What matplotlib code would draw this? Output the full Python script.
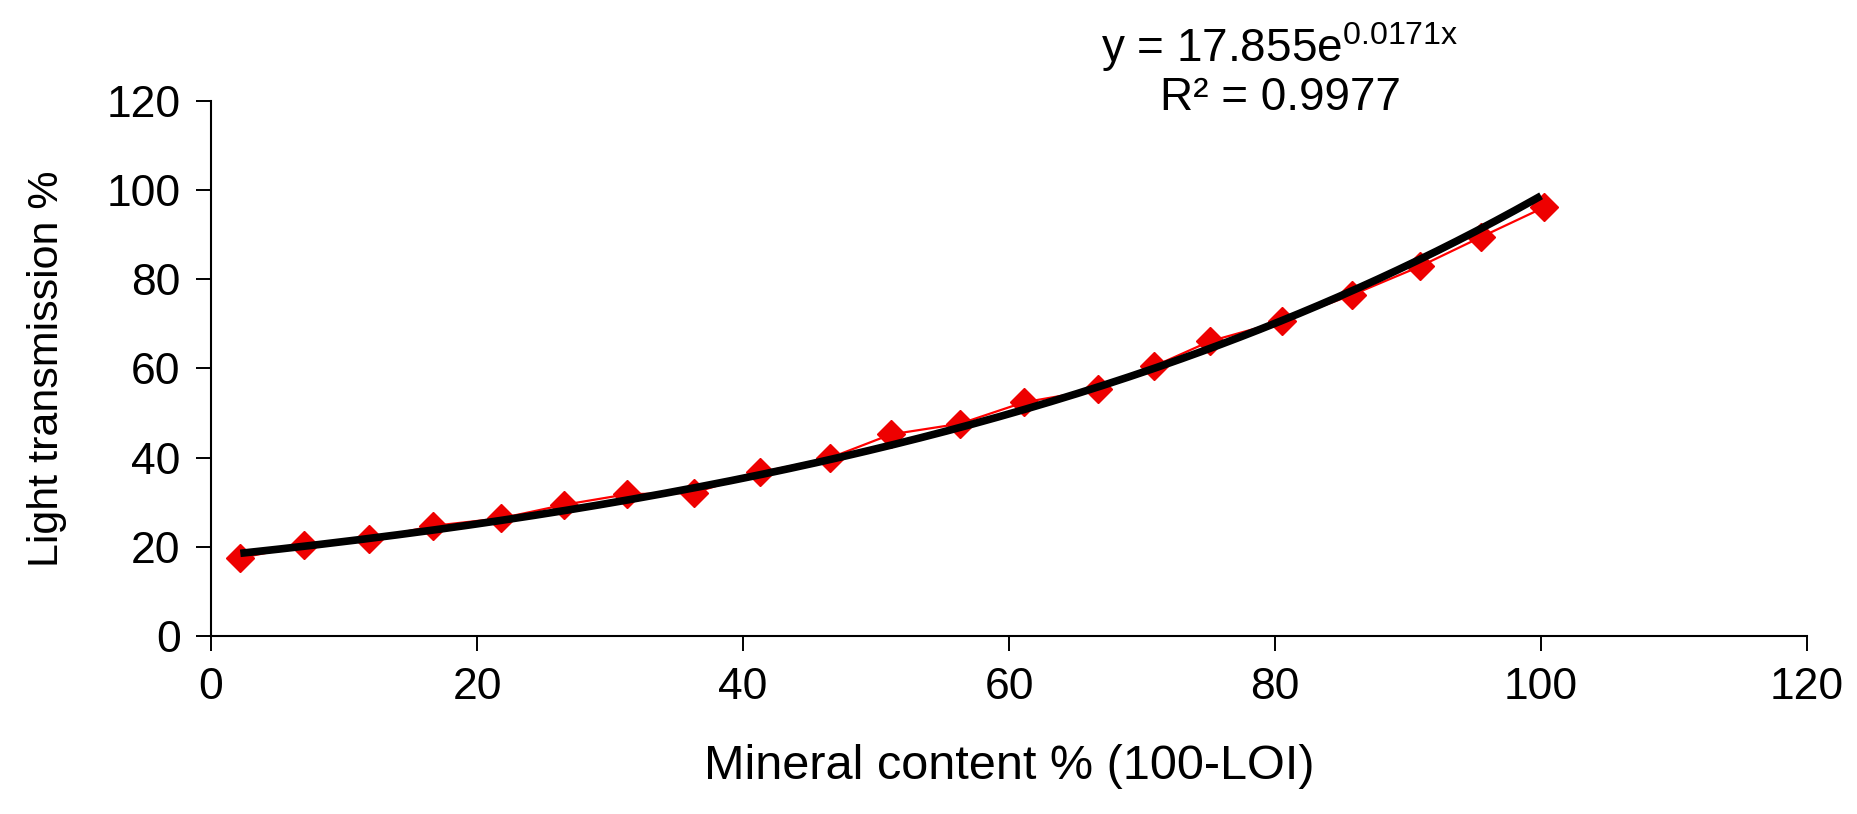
import matplotlib.pyplot as plt
import numpy as np

plt.rcParams['font.family'] = ['Liberation Sans', 'DejaVu Sans']

# mineral content (100-LOI) and measured light transmission
mineral = [2.2, 7.0, 11.9, 16.7, 21.8, 26.5, 31.3, 36.3, 41.3, 46.5, 51.1,
           56.3, 61.1, 66.7, 70.9, 75.1, 80.5, 85.8, 90.9, 95.5, 100.2]
transmission = [17.5, 20.3, 21.7, 24.7, 26.4, 29.4, 31.8, 32.1, 36.7, 39.9, 45.2,
                47.6, 52.4, 55.3, 60.5, 66.1, 70.6, 76.5, 82.9, 89.5, 96.1]

# exponential trend line
fit_a = 17.855
fit_b = 0.0171
r_squared = 0.9977

x_ticks = [0, 20, 40, 60, 80, 100, 120]
y_ticks = [0, 20, 40, 60, 80, 100, 120]

fig = plt.figure(figsize=(18.58, 8.14), dpi=100)
ax = fig.add_axes([0.1136, 0.2187, 0.8590, 0.6573])

ax.plot(mineral, transmission, color='#ff0000', lw=1.6, marker='D',
        ms=14, mec='#ee0000', mfc='#ee0000', zorder=2)

xf = np.linspace(mineral[0], 100, 200)
ax.plot(xf, fit_a * np.exp(fit_b * xf), color='black', lw=5.5,
        solid_capstyle='butt', zorder=3)

ax.set_xlim(0, 120)
ax.set_ylim(0, 120)
ax.set_xticks(x_ticks)
ax.set_yticks(y_ticks)
ax.tick_params(direction='out', length=11, width=1.4, labelsize=32, pad=11,
               colors='black')

for side in ['top', 'right']:
    ax.spines[side].set_visible(False)
for side in ['left', 'bottom']:
    ax.spines[side].set_linewidth(1.5)

ax.set_xlabel('Mineral content % (100-LOI)', fontsize=35, labelpad=26)
ax.set_ylabel('Light transmission %', fontsize=31, labelpad=28)

fig.text(0.689, 0.942, 'y = %.3fe$\\mathregular{^{%.4fx}}$' % (fit_a, fit_b),
         ha='center', va='center', fontsize=33)
fig.text(0.689, 0.880, 'R² = %.4f' % r_squared, ha='center', va='center',
         fontsize=33)

fig.savefig('out.png', dpi=100)
